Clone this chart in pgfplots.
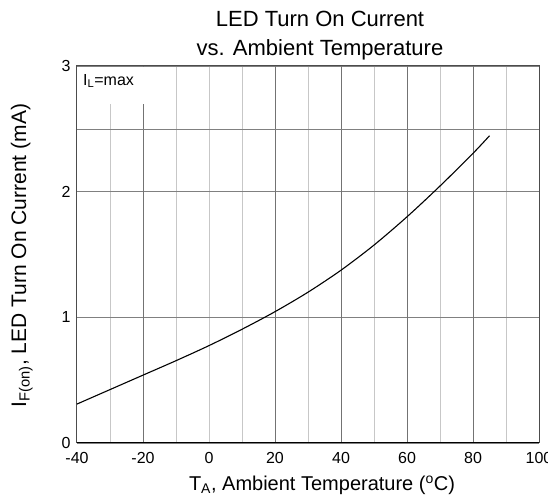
\documentclass[border=0pt]{standalone}
\usepackage{pgfplots}
\pgfplotsset{compat=1.18}
\usepackage{fontspec}
\setmainfont{Liberation Sans}
\begin{document}
\begin{tikzpicture}
\begin{axis}[
  scale only axis,
  width=462pt, height=377pt,
  xmin=-40, xmax=100, ymin=0, ymax=3,
  xtick={-40,-20,0,20,40,60,80,100},
  ytick={0,1,2,3},
  minor xtick={-30,-10,0,10,30,50,70,90},
  extra x ticks={-20,20,40,60,80},
  extra x tick labels={},
  extra x tick style={xmajorgrids=true, major grid style={draw=black!55, line width=0.6pt}},
  extra y ticks={2.5},
  extra y tick labels={},
  extra y tick style={ymajorgrids=true, major grid style={draw=black!50, line width=0.6pt}},
  xminorgrids=true,
  ymajorgrids=true,
  minor grid style={draw=black!22, line width=0.6pt},
  major grid style={draw=black!50, line width=0.6pt},
  major tick length=0pt, minor tick length=0pt,
  tick style={draw=none},
  axis line style={draw=black!70, line width=1pt},
  /pgf/number format/assume math mode=true,
  tick label style={font=\fontsize{16}{18}\selectfont},
  xticklabel style={yshift=-6pt},
  yticklabel style={xshift=-3pt},
  xlabel={T\textsubscript{A}, Ambient Temperature (\textsuperscript{o}C)},
  ylabel={I\textsubscript{F(on)}, LED Turn On Current (mA)},
  xlabel style={font=\fontsize{20}{22}\selectfont, yshift=-5pt, xshift=14pt},
  ylabel style={font=\fontsize{21}{23}\selectfont, yshift=22pt, xshift=-1pt},
  title={LED Turn On Current\\vs. Ambient Temperature},
  title style={font=\fontsize{22}{29}\selectfont, align=center, xshift=12pt, yshift=-4pt},
]
\node[anchor=north west, fill=white, inner sep=0pt, minimum width=70pt, minimum height=37pt] at ([xshift=1pt,yshift=-1pt]rel axis cs:0,1) {};
\node[anchor=north west, font=\fontsize{16}{18}\selectfont, inner sep=0pt] at ([xshift=6pt,yshift=-8pt]rel axis cs:0,1) {I\textsubscript{L}=max};
\addplot[black, line width=1.1pt, smooth] coordinates {
(-40,0.31) (-30,0.425) (-20,0.54) (-10,0.655) (0,0.775) (10,0.905) (20,1.045)
(30,1.20) (40,1.375) (50,1.575) (60,1.80) (70,2.045) (80,2.305) (85,2.445)};
\draw[black, line width=1.6pt] (rel axis cs:0,0) -- (rel axis cs:1,0);
\end{axis}
\pgfresetboundingbox
\path[use as bounding box] ([xshift=-77pt,yshift=-54pt]current axis.south west) rectangle ([xshift=9pt,yshift=66pt]current axis.north east);
\end{tikzpicture}
\end{document}
